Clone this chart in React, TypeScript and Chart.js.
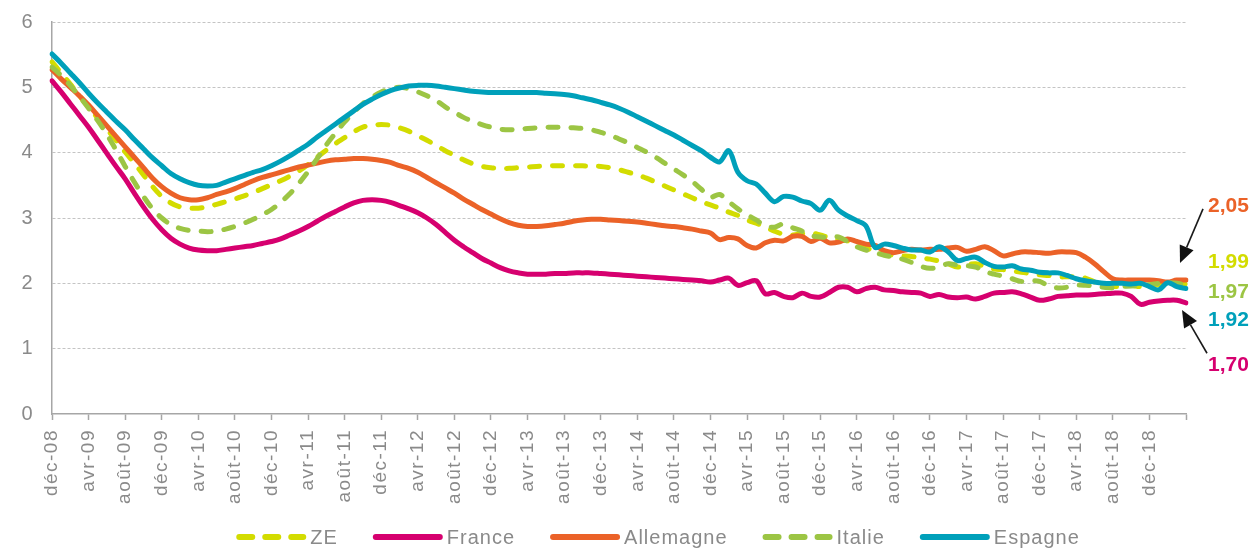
import React, { useEffect, useRef } from 'react';
import { Chart, registerables } from 'chart.js';

Chart.register(...registerables);

const FONT = '"Liberation Sans", Arial, Helvetica, sans-serif';

const MONTHS_FR = ['janv', 'févr', 'mars', 'avr', 'mai', 'juin', 'juil', 'août', 'sept', 'oct', 'nov', 'déc'];
const N_MONTHS = 125; // déc-08 .. avr-19
const LABELS: string[] = [];
for (let k = 0; k < N_MONTHS; k++) {
  const m = (11 + k) % 12;
  const yr = 8 + Math.floor((11 + k) / 12);
  LABELS.push(`${MONTHS_FR[m]}-${String(yr).padStart(2, '0')}`);
}

const Y_TICKS = [0, 1, 2, 3, 4, 5, 6];

const ZE = [
  5.39, 5.22, 5.05, 4.87, 4.70, 4.53, 4.36, 4.19, 4.01, 3.84, 3.66, 3.48, 3.33, 3.23, 3.17, 3.15, 3.15,
  3.17, 3.21, 3.25, 3.29, 3.34, 3.39, 3.45, 3.51, 3.57, 3.64, 3.72, 3.82, 3.93, 4.04, 4.14, 4.23, 4.32, 4.39, 4.42,
  4.43, 4.42, 4.38, 4.33, 4.26, 4.19, 4.11, 4.03, 3.96, 3.89, 3.83, 3.79, 3.77, 3.76, 3.76, 3.77, 3.78, 3.79, 3.80, 3.80,
  3.80, 3.80, 3.80, 3.79, 3.79, 3.77, 3.74, 3.70, 3.66, 3.61, 3.55, 3.49, 3.43, 3.37, 3.31, 3.25, 3.20,
  3.15, 3.09, 3.04, 2.97, 2.92, 2.86, 2.80, 2.75, 2.74, 2.76, 2.77, 2.74, 2.70, 2.67, 2.65, 2.62, 2.55, 2.48,
  2.45, 2.43, 2.42, 2.41, 2.39, 2.37, 2.34, 2.30, 2.25, 2.28, 2.30, 2.26, 2.22, 2.21, 2.19, 2.17, 2.15, 2.13,
  2.12, 2.10, 2.10, 2.10, 2.08, 2.02, 1.97, 1.95, 1.96, 1.97, 1.95, 1.96, 1.98, 1.99, 2.00, 1.99,
];

const FRANCE = [
  5.10, 4.93, 4.75, 4.57, 4.39, 4.19, 3.99, 3.79, 3.60, 3.38, 3.17, 2.98, 2.82, 2.69, 2.60, 2.54, 2.51,
  2.50, 2.50, 2.52, 2.54, 2.56, 2.58, 2.61, 2.64, 2.68, 2.74, 2.80, 2.87, 2.95, 3.03, 3.10, 3.17, 3.23, 3.27, 3.28,
  3.27, 3.24, 3.19, 3.14, 3.08, 3.00, 2.90, 2.78, 2.66, 2.56, 2.47, 2.38, 2.31, 2.24, 2.19, 2.16, 2.14, 2.14, 2.14, 2.15,
  2.15, 2.16, 2.16, 2.16, 2.15, 2.14, 2.13, 2.12, 2.11, 2.10, 2.09, 2.08, 2.07, 2.06, 2.05, 2.04, 2.02,
  2.05, 2.08, 1.97, 2.01, 2.04, 1.84, 1.86, 1.80, 1.78, 1.85, 1.80, 1.79, 1.86, 1.94, 1.94, 1.87, 1.92, 1.94,
  1.90, 1.89, 1.87, 1.86, 1.85, 1.80, 1.83, 1.79, 1.78, 1.79, 1.76, 1.80, 1.85, 1.86, 1.87, 1.84, 1.79, 1.74,
  1.76, 1.80, 1.81, 1.82, 1.82, 1.83, 1.84, 1.85, 1.85, 1.80, 1.68, 1.71, 1.73, 1.74, 1.74, 1.70,
];

const ALLEMAGNE = [
  5.27, 5.13, 5.00, 4.87, 4.73, 4.57, 4.41, 4.25, 4.09, 3.93, 3.77, 3.61, 3.48, 3.38, 3.31, 3.28, 3.28,
  3.31, 3.36, 3.40, 3.45, 3.51, 3.57, 3.62, 3.66, 3.70, 3.74, 3.78, 3.81, 3.84, 3.87, 3.89, 3.90, 3.91, 3.91, 3.90,
  3.88, 3.85, 3.80, 3.76, 3.70, 3.62, 3.54, 3.46, 3.38, 3.29, 3.21, 3.13, 3.06, 2.99, 2.93, 2.89, 2.87, 2.87, 2.88, 2.90,
  2.92, 2.95, 2.97, 2.98, 2.98, 2.97, 2.96, 2.95, 2.94, 2.92, 2.90, 2.88, 2.87, 2.85, 2.83, 2.80, 2.77,
  2.67, 2.70, 2.68, 2.58, 2.54, 2.62, 2.66, 2.65, 2.72, 2.72, 2.64, 2.69, 2.62, 2.63, 2.68, 2.64, 2.60, 2.58,
  2.50, 2.47, 2.50, 2.52, 2.51, 2.52, 2.52, 2.54, 2.55, 2.49, 2.52, 2.56, 2.50, 2.42, 2.45, 2.48, 2.48, 2.47,
  2.46, 2.48, 2.48, 2.47, 2.40, 2.30, 2.18, 2.07, 2.05, 2.05, 2.05, 2.05, 2.04, 2.02, 2.05, 2.05,
];

const ITALIE = [
  5.31, 5.18, 5.03, 4.86, 4.68, 4.49, 4.28, 4.04, 3.79, 3.55, 3.33, 3.14, 3.00, 2.90, 2.84, 2.81, 2.80,
  2.79, 2.80, 2.83, 2.87, 2.92, 2.98, 3.05, 3.13, 3.24, 3.37, 3.53, 3.71, 3.91, 4.12, 4.30, 4.47, 4.62, 4.75, 4.85,
  4.93, 4.98, 5.00, 4.98, 4.93, 4.87, 4.80, 4.70, 4.62, 4.54, 4.48, 4.43, 4.39, 4.36, 4.35, 4.36, 4.37, 4.38, 4.39, 4.39,
  4.39, 4.38, 4.37, 4.35, 4.31, 4.27, 4.21, 4.15, 4.08, 4.01, 3.93, 3.84, 3.75, 3.66, 3.56, 3.44, 3.32,
  3.36, 3.25, 3.14, 3.05, 2.97, 2.88, 2.86, 2.91, 2.85, 2.80, 2.73, 2.71, 2.70, 2.71, 2.64, 2.56, 2.51, 2.47,
  2.43, 2.40, 2.37, 2.32, 2.26, 2.23, 2.25, 2.30, 2.28, 2.27, 2.25, 2.18, 2.14, 2.11, 2.07, 2.03, 2.04, 2.03,
  1.96, 1.93, 1.94, 1.97, 1.97, 1.96, 1.94, 1.93, 1.95, 1.96, 1.97, 1.98, 2.00, 2.01, 2.00, 1.97,
];

const ESPAGNE = [
  5.51, 5.37, 5.22, 5.07, 4.91, 4.76, 4.62, 4.48, 4.35, 4.20, 4.06, 3.92, 3.80, 3.68, 3.60, 3.54, 3.50,
  3.49, 3.50, 3.55, 3.60, 3.65, 3.70, 3.74, 3.80, 3.87, 3.95, 4.04, 4.13, 4.24, 4.34, 4.44, 4.54, 4.64, 4.74, 4.82,
  4.89, 4.95, 4.99, 5.02, 5.03, 5.03, 5.02, 5.00, 4.98, 4.96, 4.94, 4.93, 4.92, 4.92, 4.92, 4.92, 4.92, 4.92, 4.91, 4.90,
  4.89, 4.87, 4.84, 4.81, 4.77, 4.73, 4.68, 4.62, 4.55, 4.48, 4.41, 4.34, 4.27, 4.19, 4.11, 4.03, 3.93,
  3.86, 4.03, 3.70, 3.57, 3.52, 3.38, 3.25, 3.33, 3.32, 3.26, 3.22, 3.12, 3.27, 3.12, 3.03, 2.96, 2.88, 2.55,
  2.60, 2.58, 2.54, 2.51, 2.51, 2.48, 2.56, 2.48, 2.35, 2.38, 2.40, 2.32, 2.26, 2.25, 2.27, 2.22, 2.20, 2.17,
  2.16, 2.16, 2.12, 2.07, 2.04, 2.02, 2.00, 2.00, 2.00, 1.99, 2.00, 1.95, 1.90, 2.01, 1.95, 1.92,
];

const SERIES_NAMES = ['ZE', 'France', 'Allemagne', 'Italie', 'Espagne'];
const SERIES_DATA = [ZE, FRANCE, ALLEMAGNE, ITALIE, ESPAGNE];
const SERIES_COLORS = ['#d3dc00', '#d6006f', '#eb6228', '#9cc544', '#00a0ba'];
const SERIES_DASHED = [true, false, false, true, false];

// End-value callouts: order of series, and where (in axis units) the text sits
const CALLOUT_SERIES = [2, 0, 3, 4, 1];
const CALLOUT_LEVELS = [3.18, 2.33, 1.87, 1.44, 0.75];

const GREY_TEXT = '#8a8a8a';
const AXIS_GREY = '#a6a6a6';

function fmt(v: number) {
  return v.toFixed(2).replace('.', ',');
}

function drawArrow(ctx: CanvasRenderingContext2D, x1: number, y1: number, x2: number, y2: number) {
  const ang = Math.atan2(y2 - y1, x2 - x1);
  const head = 17;
  const half = 7.5;
  const bx = x2 - head * Math.cos(ang);
  const by = y2 - head * Math.sin(ang);
  ctx.save();
  ctx.strokeStyle = '#1a1a1a';
  ctx.fillStyle = '#111';
  ctx.lineWidth = 1.6;
  ctx.setLineDash([]);
  ctx.beginPath();
  ctx.moveTo(x1, y1);
  ctx.lineTo(bx, by);
  ctx.stroke();
  ctx.beginPath();
  ctx.moveTo(x2, y2);
  ctx.lineTo(bx + half * Math.sin(ang), by - half * Math.cos(ang));
  ctx.lineTo(bx - half * Math.sin(ang), by + half * Math.cos(ang));
  ctx.closePath();
  ctx.fill();
  ctx.restore();
}

const spacingPlugin = {
  id: 'spacing',
  beforeDraw(chart: any) {
    (chart.ctx as any).letterSpacing = '1.5px';
  },
};

const decorPlugin = {
  id: 'decor',
  afterDraw(chart: any) {
    const ctx: CanvasRenderingContext2D = chart.ctx;
    const area = chart.chartArea;
    const y = chart.scales.y;
    const R = area.right;
    ctx.save();
    (ctx as any).letterSpacing = '0px';

    // arrows
    drawArrow(ctx, R + 17, y.getPixelForValue(3.14), R - 6, y.getPixelForValue(2.31));
    drawArrow(ctx, R + 21, y.getPixelForValue(0.93), R - 4, y.getPixelForValue(1.59));

    // end values
    ctx.font = `bold 21px ${FONT}`;
    ctx.textAlign = 'left';
    ctx.textBaseline = 'middle';
    CALLOUT_SERIES.forEach((si, k) => {
      const data = SERIES_DATA[si];
      ctx.fillStyle = SERIES_COLORS[si];
      ctx.fillText(fmt(data[data.length - 1]), R + 22, y.getPixelForValue(CALLOUT_LEVELS[k]));
    });

    // legend
    (ctx as any).letterSpacing = '1px';
    ctx.font = `20px ${FONT}`;
    const sample = 70;
    const gapText = 4;
    const gapItem = 35;
    const widths = SERIES_NAMES.map((n) => ctx.measureText(n).width);
    const total = widths.reduce((a, w) => a + sample + gapText + w, 0) + gapItem * (SERIES_NAMES.length - 1);
    let x = 658 - total / 2;
    const ly = 537;
    SERIES_NAMES.forEach((name, i) => {
      ctx.save();
      ctx.strokeStyle = SERIES_COLORS[i];
      ctx.lineWidth = 6;
      ctx.lineCap = 'round';
      ctx.setLineDash(SERIES_DASHED[i] ? [13, 13] : []);
      ctx.beginPath();
      ctx.moveTo(x + 3, ly);
      ctx.lineTo(x + sample - 3, ly);
      ctx.stroke();
      ctx.restore();
      ctx.fillStyle = GREY_TEXT;
      ctx.textAlign = 'left';
      ctx.textBaseline = 'middle';
      ctx.fillText(name, x + sample + gapText, ly + 1);
      x += sample + gapText + widths[i] + gapItem;
    });
    ctx.restore();
  },
};

export default function App() {
  const ref = useRef<HTMLCanvasElement>(null);
  useEffect(() => {
    const orders = [5, 4, 3, 2, 1];
    const chart = new Chart(ref.current as HTMLCanvasElement, {
      type: 'line',
      data: {
        labels: LABELS,
        datasets: SERIES_NAMES.map((name, i) => ({
          label: name,
          data: SERIES_DATA[i],
          borderColor: SERIES_COLORS[i],
          backgroundColor: SERIES_COLORS[i],
          borderWidth: 5,
          borderDash: SERIES_DASHED[i] ? [10, 13] : [],
          borderCapStyle: 'round' as const,
          borderJoinStyle: 'round' as const,
          pointRadius: 0,
          pointHoverRadius: 0,
          tension: 0.35,
          fill: false,
          order: orders[i],
        })),
      },
      options: {
        animation: false,
        responsive: true,
        maintainAspectRatio: false,
        events: [],
        layout: { padding: { top: 22, right: 66, bottom: 34, left: 0 } },
        plugins: {
          legend: { display: false },
          tooltip: { enabled: false },
        },
        scales: {
          x: {
            type: 'category',
            offset: false,
            afterFit: (s: any) => {
              s.height = 100;
              s.paddingLeft = 0;
              s.paddingRight = 0;
              s.paddingTop = 0;
              s.paddingBottom = 0;
            },
            border: { display: true, color: AXIS_GREY, width: 1.5 },
            grid: {
              display: true,
              drawOnChartArea: false,
              drawTicks: true,
              tickLength: 6,
              tickColor: (c: any) => (c.index % 4 === 0 ? AXIS_GREY : 'rgba(0,0,0,0)'),
              tickWidth: 1.5,
            },
            ticks: {
              autoSkip: false,
              minRotation: 90,
              maxRotation: 90,
              padding: 9,
              color: GREY_TEXT,
              font: { family: FONT, size: 19 },
              callback: (_v: any, idx: number) => (idx % 4 === 0 && idx < N_MONTHS - 1 ? LABELS[idx] : ''),
            },
          },
          y: {
            min: Y_TICKS[0],
            max: Y_TICKS[Y_TICKS.length - 1],
            afterFit: (s: any) => {
              s.width = 52;
              s.paddingTop = 0;
              s.paddingBottom = 0;
              s.paddingLeft = 0;
              s.paddingRight = 0;
            },
            afterBuildTicks: (s: any) => {
              s.ticks = Y_TICKS.map((v) => ({ value: v }));
            },
            border: { display: true, color: AXIS_GREY, width: 1.5, dash: [3, 2] },
            grid: {
              display: true,
              drawTicks: false,
              color: (c: any) => (c.tick && c.tick.value === 0 ? 'rgba(0,0,0,0)' : '#c4c4c4'),
              lineWidth: 1,
            },
            ticks: {
              padding: 18,
              color: GREY_TEXT,
              font: { family: FONT, size: 20 },
            },
          },
        },
      },
      plugins: [spacingPlugin, decorPlugin],
    } as any);
    return () => chart.destroy();
  }, []);
  return (
    <div style={{ position: 'absolute', left: 0, top: 0, width: 1252, height: 548 }}>
      <canvas ref={ref} />
    </div>
  );
}
